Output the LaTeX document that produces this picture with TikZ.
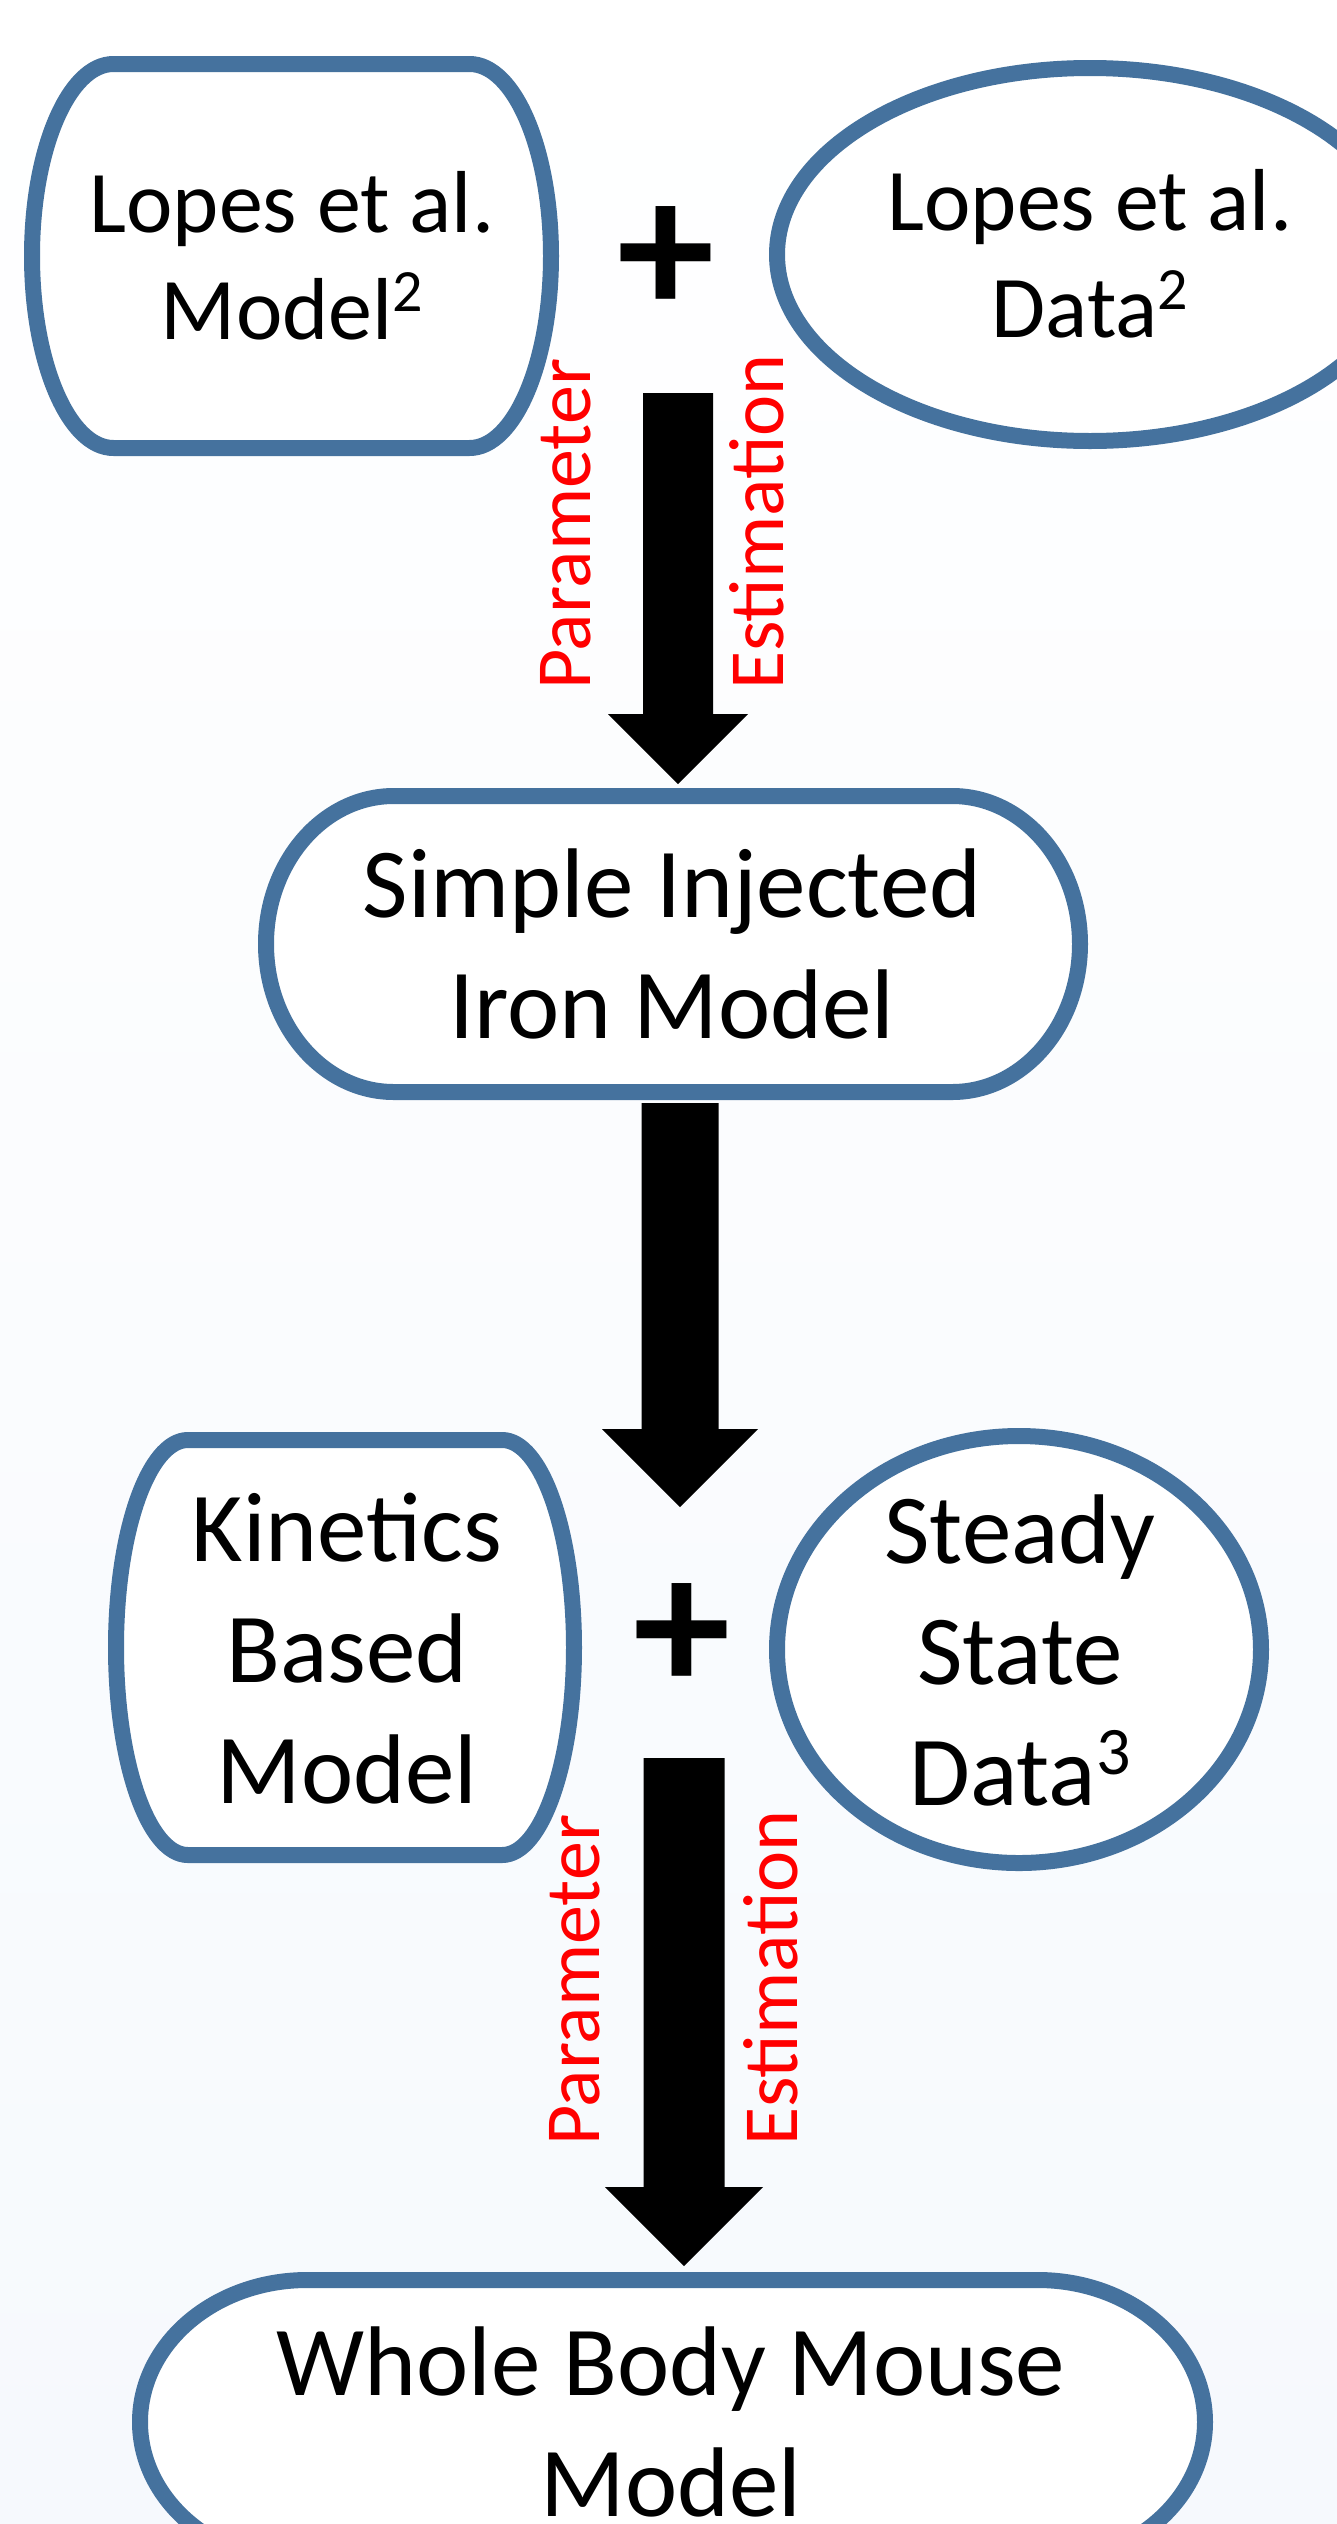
\documentclass[tikz,border=0pt]{standalone}
\usepackage{fontspec}
\setmainfont{Carlito}
\usetikzlibrary{calc}
\definecolor{boxblue}{RGB}{69,114,158}
\definecolor{bgblue}{RGB}{246,249,253}
\tikzset{
	boxline/.style={draw=boxblue, line width=16pt, fill=white},
	toptext/.style={align=center, anchor=base, inner sep=0pt, font=\fontsize{88}{107}\selectfont},
	bigtext/.style={align=center, anchor=base, inner sep=0pt, font=\fontsize{99}{121}\selectfont},
	pelabel/.style={text=red, rotate=90, anchor=base west, inner sep=0pt, font=\fontsize{78}{92}\selectfont},
	plussign/.style={inner sep=0pt, font=\fontsize{195}{195}\selectfont\bfseries}
}
% terminator: centre x, centre y, width, height
\newcommand{\termbox}[4]{%
	\draw[boxline] ({#1-#3/2+0.157*#3},{#2-#4/2}) -- ({#1+#3/2-0.157*#3},{#2-#4/2})
		arc[start angle=-90, end angle=90, x radius={0.157*#3}, y radius={#4/2}]
		-- ({#1-#3/2+0.157*#3},{#2+#4/2})
		arc[start angle=90, end angle=270, x radius={0.157*#3}, y radius={#4/2}] -- cycle;}
% block arrow: top, tip, half shaft, head
\newcommand{\blockarrow}[4]{%
	\fill ($(#1)+(-#3,0)$) -- ($(#1)+(#3,0)$) -- ($(#2)+(#3,-#4)$) -- ($(#2)+(#4,-#4)$)
		-- (#2) -- ($(#2)+(-#4,-#4)$) -- ($(#2)+(-#3,-#4)$) -- cycle;}
% superscript: raise, size
\newcommand{\supnum}[3]{\raisebox{#1pt}{\fontsize{#2}{#2}\selectfont #3}}
\begin{document}
\begin{tikzpicture}[x=1pt, y=-1pt, line join=round]
	\useasboundingbox (0,0) rectangle (1337,2524);
	\shade[top color=white, bottom color=bgblue] (0,0) rectangle (1337,2524);
	
	\coordinate (A1) at (678,393);
	\coordinate (T1) at (678,784);
	\coordinate (A2) at (680,1103);
	\coordinate (T2) at (680,1507);
	\coordinate (A3) at (684,1758);
	\coordinate (T3) at (684,2266);
	
	\termbox{291.5}{256}{519}{384}
	\draw[boxline] (1090,254.5) ellipse [x radius=313, y radius=186.5];
	\termbox{673}{944}{814}{296}
	\termbox{345}{1647.5}{458}{415}
	\draw[boxline] (1019,1649.5) ellipse [x radius=242, y radius=213.5];
	\termbox{672.5}{2422}{1065}{284}
	
	\blockarrow{A1}{T1}{35}{70}
	\blockarrow{A2}{T2}{38.5}{78}
	\blockarrow{A3}{T3}{40.5}{79}
	
	% anchor base = last line
	\node[toptext] (lopesmodel) at (292,339) {Lopes et al.\\Model\supnum{28}{60}{2}};
	\node[toptext] (lopesdata) at (1090,337) {Lopes et al.\\Data\supnum{28}{60}{2}};
	\node[plussign] (plus1) at (666,261) {+};
	\node[bigtext] (simple) at (672,1038) {Simple Injected\\Iron Model};
	\node[bigtext] (kinetics) at (347,1803) {Kinetics\\Based\\Model};
	\node[plussign] (plus2) at (682,1637) {+};
	\node[bigtext] (steady) at (1020,1805) {Steady\\State\\Data\supnum{31}{68}{3}};
	\node[bigtext] (whole) at (671,2516) {Whole Body Mouse\\Model};
	
	\node[pelabel] (param1) at (590,690) {Parameter};
	\node[pelabel] (estim1) at (783,690) {Estimation};
	\node[pelabel] (param2) at (599,2146) {Parameter};
	\node[pelabel] (estim2) at (797,2146) {Estimation};
\end{tikzpicture}
\end{document}
